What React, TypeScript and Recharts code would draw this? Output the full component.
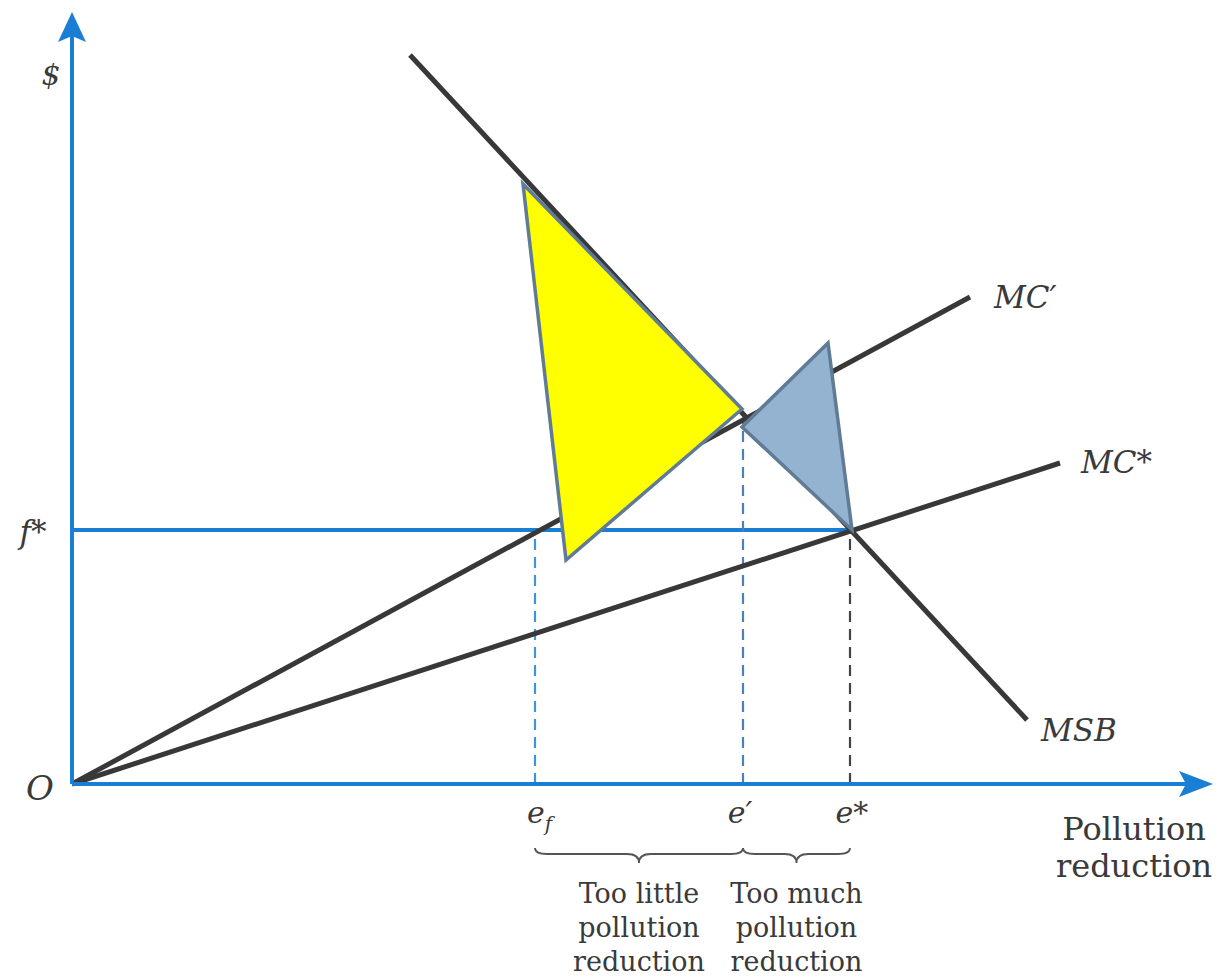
import { ComposedChart, Line, Scatter, XAxis, YAxis, ReferenceLine } from 'recharts'

// diagram units: x = pollution reduction, y = $
const X_MAX = 114.1
const Y_MAX = 77.2

const fStar = 25.4
const eF = 46.3
const ePrime = 67.1
const eStar = 77.8

const mcPrime = [
  { x: 0, y: 0 },
  { x: 89.8, y: 48.7 },
]
const mcStar = [
  { x: 0, y: 0 },
  { x: 98.8, y: 32.1 },
]
const msb = [
  { x: 33.8, y: 72.9 },
  { x: 95.5, y: 6.4 },
]

const yellowTriangle = [
  { x: 45.1, y: 60.0 },
  { x: 67.0, y: 37.5 },
  { x: 49.4, y: 22.4 },
]
const blueTriangle = [
  { x: 75.6, y: 44.1 },
  { x: 67.0, y: 35.7 },
  { x: 78.0, y: 25.4 },
]

const xTicks = [eF, ePrime, eStar]
const yTicks = [0, fStar]
const braceY = -6.4
const tooLittle = ['Too little', 'pollution', 'reduction']
const tooMuch = ['Too much', 'pollution', 'reduction']

const BLUE = '#1a7fd4'
const INK = '#383838'
const TEXT = '#3a3a3a'
const SERIF = '"DejaVu Serif", "Liberation Serif", serif'

function AxisArrow(props: any) {
  const { x1, y1, x2, y2 } = props
  const vertical = Math.abs(x1 - x2) < 1
  const head = vertical
    ? `${x2},${y2} ${x2 - 14},${y2 + 30} ${x2},${y2 + 24} ${x2 + 14},${y2 + 30}`
    : `${x2},${y2} ${x2 - 34},${y2 - 13} ${x2 - 27},${y2} ${x2 - 34},${y2 + 13}`
  return (
    <g>
      <line x1={x1} y1={y1} x2={vertical ? x2 : x2 - 20} y2={vertical ? y2 + 20 : y2} stroke={BLUE} strokeWidth={4} />
      <polygon points={head} fill={BLUE} />
    </g>
  )
}

function braceShape(lines: string[]) {
  return function Brace(props: any) {
    const { x1, x2, y1 } = props
    const xm = (x1 + x2) / 2
    const r = 12
    const y0 = y1
    const ya = y0 + 6
    const yb = y0 + 15
    const d = `M${x1},${y0} Q${x1},${ya} ${x1 + r},${ya} L${xm - r},${ya} Q${xm},${ya} ${xm},${yb} Q${xm},${ya} ${xm + r},${ya} L${x2 - r},${ya} Q${x2},${ya} ${x2},${y0}`
    return (
      <g>
        <path d={d} fill="none" stroke="#555" strokeWidth={1.8} />
        {lines.map((t, i) => (
          <text key={t + i} x={xm} y={y0 + 55 + i * 34} textAnchor="middle" fontFamily={SERIF} fontSize={27} fill={TEXT}>
            {t}
          </text>
        ))}
      </g>
    )
  }
}

function XTick(props: any) {
  const { x, y, payload } = props
  const v = payload.value
  const base = y + 31
  if (v === eF) {
    return (
      <text x={x - 8} y={base} fontFamily={SERIF} fontStyle="italic" fontSize={30} fill={TEXT}>
        e<tspan fontSize={20} dy={8}>f</tspan>
      </text>
    )
  }
  return (
    <text x={v === eStar ? x + 2 : x - 3} y={base} textAnchor="middle" fontFamily={SERIF} fontStyle="italic" fontSize={30} fill={TEXT}>
      {v === ePrime ? 'e\u2032' : 'e*'}
    </text>
  )
}

function YTick(props: any) {
  const { y, payload } = props
  if (payload.value === 0) {
    return (
      <text x={40} y={y + 16} textAnchor="middle" fontFamily={SERIF} fontStyle="italic" fontSize={34} fill={TEXT}>
        O
      </text>
    )
  }
  return (
    <text x={33} y={y + 13} textAnchor="middle" fontFamily={SERIF} fontStyle="italic" fontSize={31} fill={TEXT}>
      f*
    </text>
  )
}

function endLabel(name: string, dx: number, dy: number, last: number) {
  return function EndLabel(props: any) {
    const { x, y, index } = props
    if (index !== last) return null
    return (
      <text x={x + dx} y={y + dy} fontFamily={SERIF} fontStyle="italic" fontSize={31} fill={TEXT}>
        {name}
      </text>
    )
  }
}

function trianglePolygon(fill: string) {
  return function Tri(props: any) {
    const pts = (props.points || []).map((p: any) => `${p.x},${p.y}`).join(' ')
    return <polygon points={pts} fill={fill} stroke="#5f7b96" strokeWidth={3.5} strokeLinejoin="miter" />
  }
}

const noDot = () => <g />

export default function App() {
  return (
    <div style={{ position: 'absolute', left: 0, top: 0, background: '#fff' }}>
      <ComposedChart width={1220} height={980} margin={{ top: 12, right: 7, left: 0, bottom: 0 }}>
        <XAxis
          type="number"
          dataKey="x"
          domain={[0, X_MAX]}
          ticks={xTicks}
          tick={XTick}
          tickLine={false}
          axisLine={false}
          height={196}
          interval={0}
          label={{
            content: (p: any) => {
              const vb = p.viewBox
              const cx = vb.x + vb.width - 79
              return (
                <text x={cx} y={vb.y + 56} textAnchor="middle" fontFamily={SERIF} fontSize={32} fill={TEXT}>
                  <tspan x={cx}>Pollution</tspan>
                  <tspan x={cx} dy={37}>reduction</tspan>
                </text>
              )
            },
          }}
        />
        <YAxis
          type="number"
          dataKey="y"
          domain={[0, Y_MAX]}
          ticks={yTicks}
          tick={YTick}
          tickLine={false}
          axisLine={false}
          width={72}
          interval={0}
          label={{
            content: (p: any) => (
              <text x={51} y={p.viewBox.y + 73} textAnchor="middle" fontFamily={SERIF} fontStyle="italic" fontSize={30} fill={TEXT}>
                $
              </text>
            ),
          }}
        />

        <ReferenceLine segment={[{ x: 0, y: fStar }, { x: eStar, y: fStar }]} stroke={BLUE} strokeWidth={4} ifOverflow="visible" />
        <ReferenceLine segment={[{ x: eF, y: 0 }, { x: eF, y: fStar }]} stroke="#3f95d8" strokeWidth={2.2} strokeDasharray="11 7" ifOverflow="visible" />
        <ReferenceLine segment={[{ x: ePrime, y: 0 }, { x: ePrime, y: 36.4 }]} stroke="#4d7fb8" strokeWidth={2.2} strokeDasharray="11 7" ifOverflow="visible" />
        <ReferenceLine segment={[{ x: eStar, y: 0 }, { x: eStar, y: fStar }]} stroke="#444" strokeWidth={2.2} strokeDasharray="11 7" ifOverflow="visible" />

        <Line data={mcPrime} dataKey="y" stroke={INK} strokeWidth={5} dot={false} isAnimationActive={false} label={endLabel('MC\u2032', 24, 11, mcPrime.length - 1)} />
        <Line data={mcStar} dataKey="y" stroke={INK} strokeWidth={5} dot={false} isAnimationActive={false} label={endLabel('MC*', 21, 10, mcStar.length - 1)} />
        <Line data={msb} dataKey="y" stroke={INK} strokeWidth={5} dot={false} isAnimationActive={false} label={endLabel('MSB', 14, 21, msb.length - 1)} />

        <ReferenceLine segment={[{ x: 0, y: 0 }, { x: X_MAX, y: 0 }]} shape={AxisArrow} ifOverflow="visible" />
        <ReferenceLine segment={[{ x: 0, y: 0 }, { x: 0, y: Y_MAX }]} shape={AxisArrow} ifOverflow="visible" />

        <ReferenceLine segment={[{ x: eF, y: braceY }, { x: ePrime, y: braceY }]} shape={braceShape(tooLittle)} ifOverflow="visible" />
        <ReferenceLine segment={[{ x: ePrime, y: braceY }, { x: eStar, y: braceY }]} shape={braceShape(tooMuch)} ifOverflow="visible" />

        <Scatter data={yellowTriangle} shape={noDot} line={trianglePolygon('#ffff00')} isAnimationActive={false} />
        <Scatter data={blueTriangle} shape={noDot} line={trianglePolygon('#93b3d1')} isAnimationActive={false} />
      </ComposedChart>
    </div>
  )
}
